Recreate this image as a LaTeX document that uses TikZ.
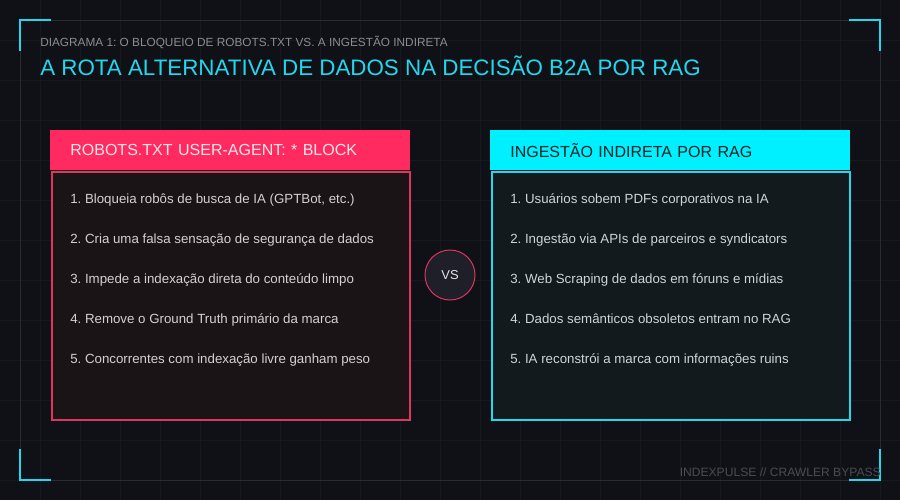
\documentclass[tikz,border=0pt]{standalone}
\usepackage{fontspec}
\setmainfont{Liberation Sans}
\usetikzlibrary{positioning}
\frenchspacing
\definecolor{bgdark}{HTML}{101116}
\definecolor{gridgray}{HTML}{171920}
\definecolor{framegray}{HTML}{2A2C33}
\definecolor{neoncyan}{HTML}{22D8EE}
\definecolor{headcyan}{HTML}{00F0FF}
\definecolor{neonpink}{HTML}{FF2A5F}
\definecolor{pinkline}{HTML}{E0355E}
\definecolor{pinkbody}{HTML}{1B1417}
\definecolor{cyanbody}{HTML}{121A1E}
\definecolor{pinkitem}{HTML}{D8CED1}
\definecolor{cyanitem}{HTML}{CFD4D6}
\definecolor{vsfill}{HTML}{1E1F29}
\definecolor{subgray}{HTML}{8A8C92}
\definecolor{footgray}{HTML}{4A4C52}
\begin{document}
\begin{tikzpicture}[
    x = 0.025cm, y = -0.025cm,
    body/.style = {draw, line width = 1.4pt, minimum width = 8.95cm, minimum height = 6.2cm, anchor = north west},
    head/.style = {minimum height = 1cm, text width = 8cm, inner xsep = 0.5cm, anchor = north west, font = \fontsize{11.4}{13}\selectfont},
    item/.style = {inner sep = 0pt, font = \fontsize{9.45}{12}\selectfont},
    bracket/.style = {draw = neoncyan, line width = 2.1pt}
]
\useasboundingbox[fill = bgdark] (0,0) rectangle (900,500);
% grid
\foreach \gx in {40,80,...,880} \draw[gridgray, line width = 0.6pt] (\gx,0) -- (\gx,500);
\foreach \gy in {40,80,...,480} \draw[gridgray, line width = 0.6pt] (0,\gy) -- (900,\gy);
\draw[framegray, line width = 0.7pt] (20,20) rectangle (880,480);
% corner brackets
\draw[bracket] (20,51) -- (20,20) -- (51,20);
\draw[bracket] (849,20) -- (880,20) -- (880,51);
\draw[bracket] (20,449) -- (20,480) -- (51,480);
\draw[bracket] (849,480) -- (880,480) -- (880,449);
% titles
\node[anchor = base west, inner sep = 0pt, text = subgray, font = \fontsize{8.4}{10}\selectfont] (subtitle) at (40,46) {DIAGRAMA 1: O BLOQUEIO DE ROBOTS.TXT VS. A INGESTÃO INDIRETA};
\node[anchor = base west, inner sep = 0pt, text = neoncyan, font = \fontsize{15.9}{19}\selectfont] (title) at (40,75) {A ROTA ALTERNATIVA DE DADOS NA DECISÃO B2A POR RAG};
% left box
\node[body, draw = pinkline, fill = pinkbody] (leftbody) at (51,171) {};
\node[head, fill = neonpink, text = white!88!neonpink] (lefthead) at (50,130) {ROBOTS.TXT USER-AGENT: * BLOCK};
\node[item, text = pinkitem, anchor = base west] (l1) at (70,203) {1. Bloqueia robôs de busca de IA (GPTBot, etc.)};
\node[item, text = pinkitem, below = 1cm of l1.base west, anchor = base west] (l2) {2. Cria uma falsa sensação de segurança de dados};
\node[item, text = pinkitem, below = 1cm of l2.base west, anchor = base west] (l3) {3. Impede a indexação direta do conteúdo limpo};
\node[item, text = pinkitem, below = 1cm of l3.base west, anchor = base west] (l4) {4. Remove o Ground Truth primário da marca};
\node[item, text = pinkitem, below = 1cm of l4.base west, anchor = base west] (l5) {5. Concorrentes com indexação livre ganham peso};
% right box
\node[body, draw = neoncyan, fill = cyanbody] (rightbody) at (491,171) {};
\node[head, fill = headcyan, text = black!85!headcyan] (righthead) at (490,130) {INGESTÃO INDIRETA POR RAG};
\node[item, text = cyanitem, anchor = base west] (r1) at (510,203) {1. Usuários sobem PDFs corporativos na IA};
\node[item, text = cyanitem, below = 1cm of r1.base west, anchor = base west] (r2) {2. Ingestão via APIs de parceiros e syndicators};
\node[item, text = cyanitem, below = 1cm of r2.base west, anchor = base west] (r3) {3. Web Scraping de dados em fóruns e mídias};
\node[item, text = cyanitem, below = 1cm of r3.base west, anchor = base west] (r4) {4. Dados semânticos obsoletos entram no RAG};
\node[item, text = cyanitem, below = 1cm of r4.base west, anchor = base west] (r5) {5. IA reconstrói a marca com informações ruins};
% vs badge
\node[circle, draw = pinkline, line width = 0.7pt, fill = vsfill, minimum size = 1.25cm, text = white!90!black, font = \fontsize{9.2}{11}\selectfont] (vs) at (450,275) {VS};
% footer
\node[anchor = base east, inner sep = 0pt, text = footgray, font = \fontsize{8.6}{10}\selectfont] (footer) at (881,476) {INDEXPULSE // CRAWLER BYPASS};
\end{tikzpicture}
\end{document}
